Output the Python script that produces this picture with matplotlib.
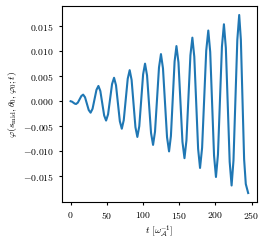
import numpy as np
import matplotlib
matplotlib.use('Agg')
import matplotlib.pyplot as plt

# valores (t en 1/omega_A, phi adimensional)
t_vals = [0.0, 1.9, 3.75, 5.6, 7.5,
          9.95, 12.4, 14.85, 17.3,
          19.9, 22.45, 25.0, 27.6,
          30.3, 33.0, 35.7, 38.4,
          41.05, 43.7, 46.35, 49.0,
          51.75, 54.5, 57.25, 60.0,
          62.7, 65.35, 68.0, 70.7,
          73.4, 76.15, 78.9, 81.6,
          84.25, 86.9, 89.55, 92.2,
          94.85, 97.5, 100.15, 102.8,
          105.6, 108.35, 111.1, 113.9,
          116.6, 119.35, 122.1, 124.8,
          127.6, 130.4, 133.2, 136.0,
          138.55, 141.1, 143.65, 146.2,
          149.0, 151.75, 154.5, 157.3,
          160.0, 162.75, 165.5, 168.2,
          170.85, 173.5, 176.15, 178.8,
          181.65, 184.5, 187.35, 190.2,
          192.85, 195.5, 198.15, 200.8,
          203.55, 206.3, 209.05, 211.8,
          214.45, 217.1, 219.75, 222.4,
          225.0, 227.65, 230.3, 232.9,
          235.2, 237.45, 239.7, 242.0,
          245.3]
phi_vals = [0.0, -0.00008, -0.000275, -0.00047, -0.00055,
            -0.000276, 0.000385, 0.001046, 0.00132,
            0.000793, -0.00048, -0.001753, -0.00228,
            -0.0015, 0.000385, 0.00227, 0.00305,
            0.00204, -0.0004, -0.00284, -0.00385,
            -0.0026, 0.000415, 0.00343, 0.00468,
            0.00319, -0.0004, -0.00399, -0.00548,
            -0.00377, 0.00036, 0.00449, 0.0062,
            0.00425, -0.00046, -0.00517, -0.00712,
            -0.00498, 0.00019, 0.00536, 0.0075,
            0.00513, -0.0006, -0.00633, -0.0087,
            -0.00605, 0.00035, 0.00675, 0.0094,
            0.00656, -0.0003, -0.00716, -0.0100,
            -0.00693, 0.0005, 0.00793, 0.0110,
            0.00773, -0.000175, -0.00808, -0.01135,
            -0.00783, 0.00067, 0.00916, 0.01268,
            0.00888, -0.00031, -0.0095, -0.0133,
            -0.00929, 0.0004, 0.01009, 0.0141,
            0.00983, -0.0005, -0.01083, -0.0151,
            -0.01064, 0.000125, 0.01089, 0.01535,
            0.01064, -0.000725, -0.01209, -0.0168,
            -0.01182, 0.0002, 0.01222, 0.0172,
            0.01227, 0.00035, -0.01157, -0.0165,
            -0.0183]

x_ticks = [0, 50, 100, 150, 200, 250]
y_ticks = [-0.015, -0.010, -0.005, 0.0, 0.005, 0.010, 0.015]

plt.rcParams['font.family'] = 'serif'
plt.rcParams['font.serif'] = ['cmr10', 'DejaVu Serif']
plt.rcParams['mathtext.fontset'] = 'cm'
plt.rcParams['axes.formatter.use_mathtext'] = True
plt.rcParams['font.size'] = 7

fig = plt.figure(figsize=(2.65, 2.43), dpi=100)
ax = fig.add_axes([0.233, 0.169, 0.737, 0.806])
ax.plot(t_vals, phi_vals, color='#1f77b4', lw=1.5)

ax.set_xticks(x_ticks)
ax.set_yticks(y_ticks)
ax.tick_params(length=2.5, width=0.8, pad=3)
ax.set_xlabel(r'$t\ [\omega_{\mathcal{A}}^{-1}]$', labelpad=2)
ax.set_ylabel(r'$\varphi(s_{\rm mid}, \theta_0, \varphi_0; t)$', labelpad=3)

fig.savefig('out.png', dpi=100)
plt.close()
